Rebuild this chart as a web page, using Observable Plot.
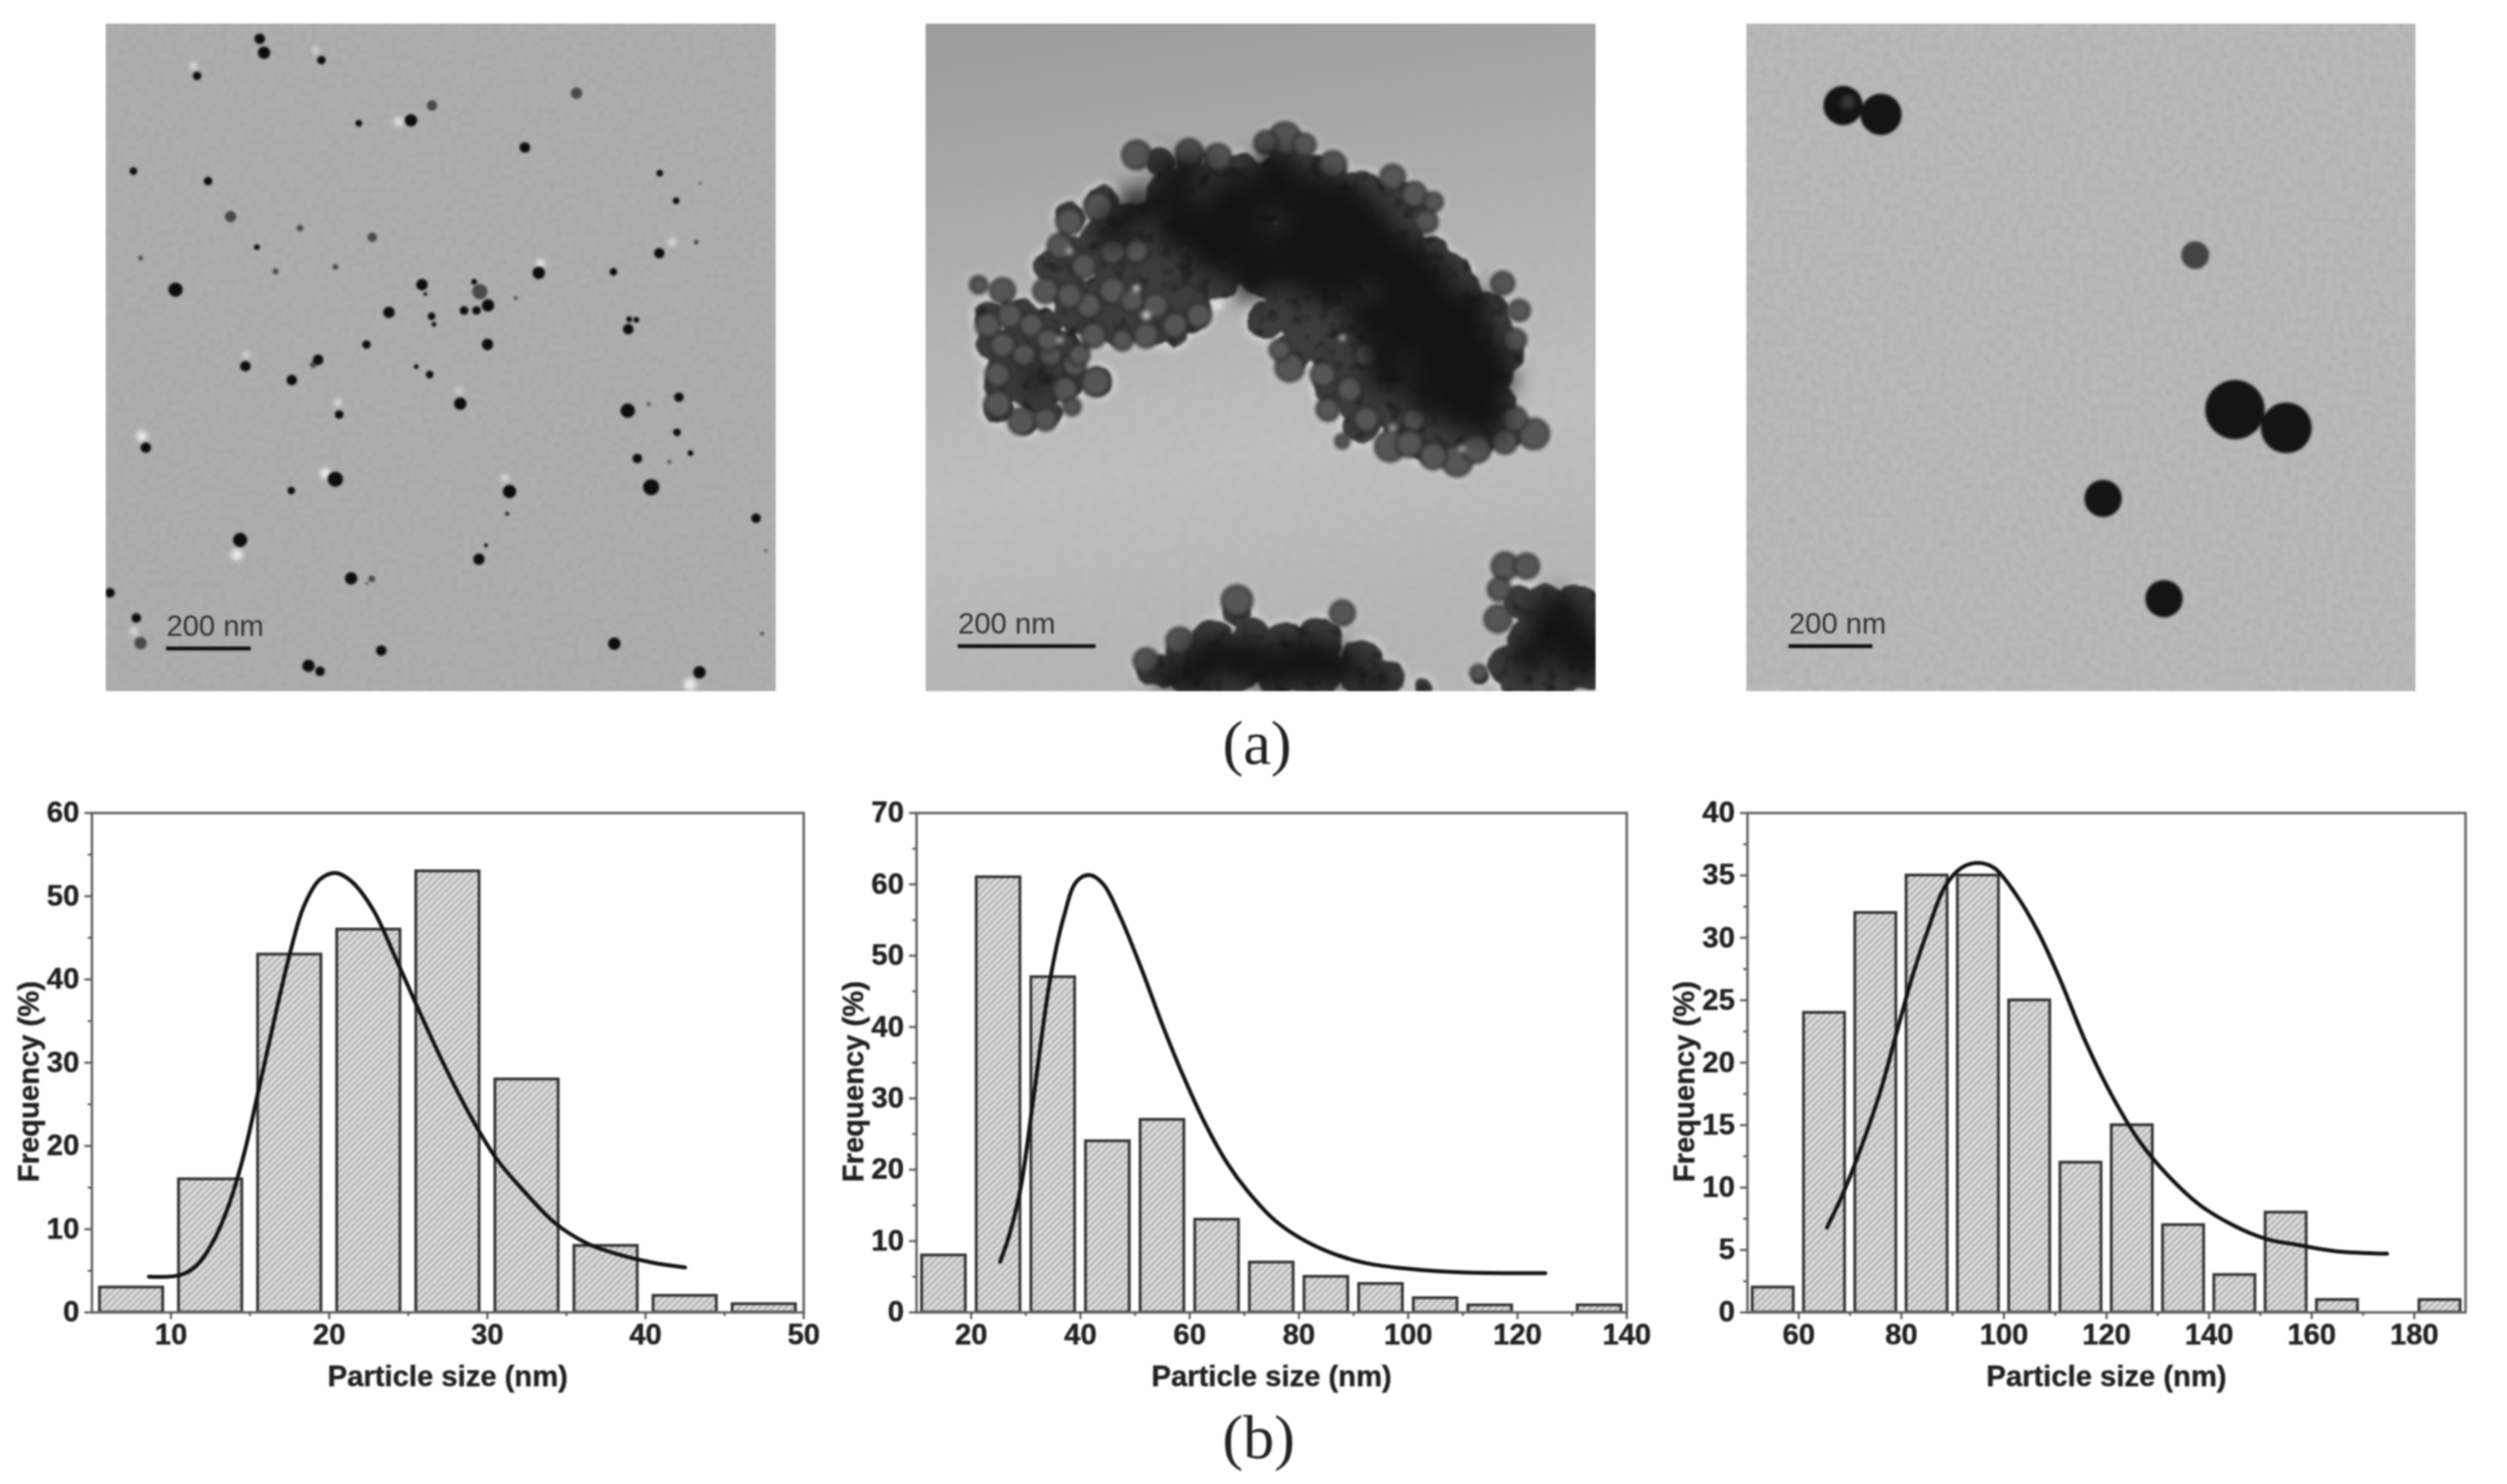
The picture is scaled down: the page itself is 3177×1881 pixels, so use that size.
<!DOCTYPE html>
<html>
<head>
<meta charset="utf-8">
<script src="https://cdn.jsdelivr.net/npm/d3@7"></script>
<script src="https://cdn.jsdelivr.net/npm/@observablehq/plot@0.6"></script>
<style>
html,body{margin:0;padding:0;background:#fff;overflow:hidden}
#root{position:relative;width:3177px;height:1881px;background:#fff;filter:blur(0.8px)}
#root svg{position:absolute;overflow:visible;background:none;max-width:none}
.cap{position:absolute;font-family:"Liberation Serif",serif;font-size:79px;color:#222;line-height:1;transform:translateX(-50%)}
</style>
</head>
<body>
<div id="root"></div>
<script>
// ---- histogram data ----
const lo1 = [5.5,10.5,15.5,20.5,25.5,30.5,35.5,40.5,45.5];
const hi1 = [9.5,14.5,19.5,24.5,29.5,34.5,39.5,44.5,49.5];
const freq1 = [3,16,43,46,53,28,8,2,1];
const fitX1 = [8.6,10.6,11.6,12.6,13.6,14.6,15.7,17.5,18.4,19.4,20.4,21.4,22.8,24.1,25.5,27.2,28.9,30.6,32.3,34.3,36.3,38.4,40.4,42.5];
const fitY1 = [4.3,4.5,5.6,8.3,12.6,18.9,28.1,43,48.8,52,52.8,51.8,48.3,43,37,30,23.7,18.4,14.6,10.7,8.3,6.9,6,5.4];
const xTicks1 = [10,20,30,40,50];
const xMinor1 = [15,25,35,45];
const yTicks1 = [0,10,20,30,40,50,60];
const yMinor1 = [5,15,25,35,45,55];

const lo2 = [11,21,31,41,51,61,71,81,91,101,111,131];
const hi2 = [19,29,39,49,59,69,79,89,99,109,119,139];
const freq2 = [8,61,47,24,27,13,7,5,4,2,1,1];
const fitX2 = [25.3,27,29,31.5,34.4,36.9,39.3,41.8,44.2,47.2,51.1,55,58.9,62.8,66.8,70.7,75.6,80.5,86.4,92.3,100.1,109.9,125.1];
const fitY2 = [7.1,10.9,17.2,30.6,46.4,55.3,60.4,61.3,60,55.6,48.3,40.3,33,26.5,21,16.9,12.9,10.3,8.2,6.9,6.1,5.6,5.5];
const xTicks2 = [20,40,60,80,100,120,140];
const xMinor2 = [30,50,70,90,110,130];
const yTicks2 = [0,10,20,30,40,50,60,70];
const yMinor2 = [5,15,25,35,45,55,65];

const lo3 = [51,61,71,81,91,101,111,121,131,141,151,161,181];
const hi3 = [59,69,79,89,99,109,119,129,139,149,159,169,189];
const freq3 = [2,24,32,35,35,25,12,15,7,3,8,1,1];
const fitX3 = [65.5,68.5,71.6,75.9,79,82.2,85.4,88.5,91.7,94.9,98.1,102.3,106.5,110.8,116,121.4,126.6,131.9,138.2,144.6,151,157.3,164.7,174.7];
const fitY3 = [6.8,9.4,12.6,17.7,22.3,27,30.9,34.1,35.6,36,35.6,33.5,30.6,26.8,21.6,17.1,13.6,11,8.6,7,5.9,5.4,4.9,4.7];
const xTicks3 = [60,80,100,120,140,160,180];
const xMinor3 = [70,90,110,130,150,170];
const yTicks3 = [0,5,10,15,20,25,30,35,40];
const yMinor3 = [2.5,7.5,12.5,17.5,22.5,27.5,32.5,37.5];

const xLabel = "Particle size (nm)";
const yLabel = "Frequency (%)";
const scaleLabel = "200 nm";

// ---- micrograph particles: [x, y, radius] in field-of-view units ----
const p1Dark = [[378,80,11],[387,108,13],[507,123,9],[247,155,9],[694,245,13],[585,251,7],[932,300,11],[114,348,8],[270,368,9],[1214,352,7],[1248,408,7],[372,502,6],[1213,514,11],[1117,552,8],[961,554,13],[202,588,15],[717,578,12],[648,634,12],[805,630,9],[831,630,9],[855,620,13],[737,642,8],[742,658,5],[1148,668,11],[1150,648,6],[1165,649,6],[854,699,12],[601,699,9],[500,730,11],[348,743,11],[445,771,11],[733,760,8],[705,744,5],[797,819,13],[1147,833,15],[1254,806,10],[544,841,9],[1250,877,8],[140,908,11],[1167,930,10],[1278,919,6],[536,972,16],[444,995,8],[900,997,14],[1196,988,17],[1415,1051,10],[337,1095,15],[836,1134,12],[569,1173,13],[65,1202,10],[120,1253,10],[632,1319,11],[1119,1305,13],[480,1350,13],[504,1361,10],[1297,1363,13],[895,1042,4],[851,1106,4],[724,597,4],[826,572,6]];
const p1Mid = [[738,215,11],[1040,190,12],[317,440,12],[462,463,7],[613,482,10],[536,542,6],[129,524,5],[411,551,6],[838,592,16],[490,740,7],[612,1174,7],[129,1304,13],[913,605,4],[1298,373,3],[1290,492,5],[1191,820,4],[1234,937,4],[1436,1117,3],[1428,1285,4],[602,1183,3]];
const p1Halo = [[132,885,11],[1277,1388,13],[515,960,11],[668,248,9],[240,135,7],[495,103,6],[965,535,9],[1240,492,7],[350,720,6],[795,793,6],[542,817,7],[330,1125,12],[115,1280,7],[890,970,7]];

const p2Outer = [[170,640,30],[240,640,35],[290,660,35],[180,700,35],[250,710,45],[330,700,30],[200,780,40],[270,790,50],[340,770,35],[400,775,30],[190,830,30],[250,860,22],[300,840,25],[360,630,50],[440,650,50],[520,650,50],[590,630,45],[560,680,25],[340,440,30],[410,410,35],[470,470,60],[350,520,45],[520,560,70],[440,560,50],[530,330,30],[590,330,28],[650,345,30],[560,400,60],[640,450,80],[720,400,70],[790,300,35],[800,380,80],[890,360,35],[950,400,55],[1015,385,25],[1060,420,30],[1000,470,80],[870,480,100],[760,530,80],[1090,520,45],[750,650,40],[810,710,40],[880,650,90],[960,600,90],[1060,600,90],[1150,590,50],[1210,640,50],[1250,720,40],[900,780,50],[980,730,80],[1080,760,100],[1180,740,90],[950,860,40],[1090,890,50],[1180,880,55],[1260,870,35],[1230,820,45],[430,500,70],[520,470,70],[600,560,60],[400,620,60],[500,620,55],[300,540,35],[340,590,40],[250,680,50],[220,740,50],[300,740,40],[650,560,50],[850,600,100],[920,700,80],[1000,800,70],[1100,680,90],[1200,680,70],[960,820,55],[1050,860,55],[1150,850,60],[1000,660,80],[1130,560,50],[700,350,40],[850,350,35],[920,450,70],[1030,420,50],[600,380,50],[510,1360,30],[570,1320,28],[640,1300,45],[690,1240,30],[720,1290,38],[590,1370,45],[680,1350,60],[780,1350,60],[860,1300,50],[850,1360,60],[950,1340,45],[1000,1375,40],[1080,1392,18],[1330,1240,55],[1400,1240,55],[1350,1300,80],[1420,1330,70],[1260,1350,45],[1195,1372,15],[1290,1380,50],[640,1350,60],[720,1330,60],[790,1300,40],[950,1370,45],[540,1360,35],[1350,1350,70],[1300,1300,45],[1280,1220,35]];
const p2Grains = [[150,578,18],[200,590,26],[170,660,26],[215,640,26],[260,660,25],[200,700,26],[245,720,24],[190,760,26],[300,720,24],[350,740,24],[395,775,30],[330,790,26],[190,820,28],[240,855,28],[290,850,24],[345,825,18],[295,690,24],[360,720,22],[340,450,28],[400,420,30],[320,500,26],[370,540,26],[430,510,26],[480,510,24],[430,590,28],[380,620,26],[340,600,26],[470,610,24],[520,620,26],[500,680,26],[560,660,26],[610,640,26],[450,690,22],[390,680,26],[290,590,26],[800,745,30],[780,710,22],[880,830,24],[925,790,26],[960,850,26],[1010,905,32],[960,720,24],[1000,680,24],[1050,900,28],[1100,925,28],[1150,935,32],[1190,910,30],[1250,895,26],[1310,880,32],[1270,850,26],[870,760,26],[910,895,15],[1060,850,24],[1015,360,26],[1060,395,26],[1100,410,20],[1085,450,24],[480,315,30],[590,310,28],[650,320,28],[790,282,34],[750,290,24],[830,295,24],[890,335,28],[1245,575,24],[1280,630,22],[1270,690,24],[690,1218,32],[910,1243,26],[570,1300,28],[500,1340,26],[1250,1148,28],[1295,1148,26],[1238,1195,24],[1235,1255,28],[1195,1365,18]];
const p2Core = [[560,400,45],[620,470,60],[540,340,25],[700,450,50],[780,380,60],[870,400,50],[930,420,45],[800,520,70],[880,540,80],[960,530,50],[1020,560,50],[720,570,40],[1080,650,60],[1150,700,70],[1200,790,60],[1100,790,60],[1000,760,40],[1220,860,30],[640,520,40],[270,770,25],[660,1330,40],[770,1360,40],[860,1340,45],[1360,1260,60],[1410,1320,60],[600,1380,30],[600,340,30],[680,400,50],[760,340,40],[860,470,70],[960,470,60],[1040,520,45],[700,520,50],[560,470,40],[1050,620,55],[1130,640,50],[1210,720,45],[1170,830,50],[1100,720,50],[1000,640,40],[540,1370,30],[620,1340,45],[720,1340,50],[820,1340,50],[900,1350,45],[980,1380,30],[1300,1330,40],[480,420,40],[430,470,35],[1100,560,40],[1180,620,40],[950,640,40],[1000,700,50],[1240,760,30]];
const p2Spots = [[480,585,8],[500,640,9],[650,620,10],[910,685,6],[1015,868,6],[340,510,6],[320,690,6],[1160,910,6]];

const p3Dark = [[228,215,41],[307,233,43],[1045,831,62],[1152,868,53],[770,1011,39],[897,1214,39]];
const p3Mid = [[962,518,29]];
const p3Ring = [[238,208,15]];

// ---- drawing helpers ----
const root = document.getElementById("root");
const FONT = '"Liberation Sans",Arial,sans-serif';
const tuple = arr => arr.map(d => ({x:d[0], y:d[1], r:d[2]}));

function place(svg, left, top) {
  svg.style.left = left + "px";
  svg.style.top = top + "px";
  root.appendChild(svg);
}

function histogram(o) {
  const m = {l:110, r:40, t:30, b:140};
  const W = o.R - o.L + m.l + m.r, H = o.B - o.T + m.t + m.b;
  const bars = o.lo.map((d,i) => ({x1:d, x2:o.hi[i], y:o.freq[i]}));
  const fit = o.fx.map((d,i) => ({x:d, y:o.fy[i]}));
  const hatch = () => {
    const g = d3.create("svg:defs");
    const p = g.append("pattern").attr("id","hatch"+o.id).attr("patternUnits","userSpaceOnUse")
      .attr("width",6).attr("height",6).attr("patternTransform","rotate(-45)");
    p.append("rect").attr("width",6).attr("height",6).attr("fill","#dcdcdc");
    p.append("rect").attr("width",6).attr("height",2.2).attr("fill","#adadad");
    return g.node();
  };
  const svg = Plot.plot({
    width:W, height:H, marginLeft:m.l, marginRight:m.r, marginTop:m.t, marginBottom:m.b,
    style:{fontFamily:FONT, background:"none", color:"#222"},
    x:{domain:o.xd}, y:{domain:o.yd},
    marks:[
      hatch,
      Plot.rect(bars,{x1:"x1",x2:"x2",y1:0,y2:"y",fill:`url(#hatch${o.id})`,stroke:"#333",strokeWidth:3.6}),
      Plot.frame({stroke:"#666",strokeWidth:3.2}),
      Plot.axisX({ticks:o.xt,tickSize:9,tickPadding:5,strokeWidth:2.6,stroke:"#555",fontSize:30,fontWeight:"bold",label:o.xl,labelAnchor:"center",labelOffset:93,labelArrow:"none"}),
      Plot.axisX({ticks:o.xm,tickSize:5,strokeWidth:2.4,stroke:"#555",tickFormat:()=>"",label:null}),
      Plot.axisY({ticks:o.yt,tickSize:9,tickPadding:7,strokeWidth:2.6,stroke:"#555",fontSize:30,fontWeight:"bold",label:o.yl,labelAnchor:"center",labelOffset:94,labelArrow:"none"}),
      Plot.axisY({ticks:o.ym,tickSize:5,strokeWidth:2.4,stroke:"#555",tickFormat:()=>"",label:null}),
      Plot.line(fit,{x:"x",y:"y",stroke:"#141414",strokeWidth:5,curve:"catmull-rom"})
    ]
  });
  d3.select(svg).selectAll("text").style("stroke","#222").style("stroke-width","0.5px").style("fill","#222");
  d3.select(svg).selectAll('g[aria-label$="label"] text').style("font-size","37px").style("font-weight","bold");
  d3.select(svg).selectAll('g[aria-label="y-axis label"]').attr("transform",function(){return "translate(0,24) "+(this.getAttribute("transform")||"");});
  place(svg, o.L - m.l, o.T - m.t);
}

function panel(o) {
  const W = o.R - o.L, H = o.B - o.T;
  const texture = () => {
    const g = d3.create("svg:g");
    const defs = g.append("defs");
    const f = defs.append("filter").attr("id","noise"+o.id).attr("x",0).attr("y",0).attr("width","100%").attr("height","100%");
    f.append("feTurbulence").attr("type","fractalNoise").attr("baseFrequency",o.noiseFreq).attr("numOctaves",3).attr("seed",o.id);
    f.append("feColorMatrix").attr("type","matrix").attr("values","0 0 0 0 0.35  0 0 0 0 0.35  0 0 0 0 0.35  1.6 0 0 0 -0.62");
    if (o.grad) {
      const lg = defs.append("linearGradient").attr("id","bg"+o.id).attr("x1",0).attr("x2",0.15).attr("y1",0).attr("y2",1);
      o.grad.forEach(s => lg.append("stop").attr("offset",s[0]).attr("stop-color",s[1]));
    }
    const l = defs.append("filter").attr("id","lump"+o.id).attr("x","-5%").attr("y","-5%").attr("width","110%").attr("height","110%").attr("color-interpolation-filters","sRGB");
    l.append("feTurbulence").attr("type","fractalNoise").attr("baseFrequency",0.05).attr("numOctaves",2).attr("seed",5).attr("result","n");
    l.append("feDisplacementMap").attr("in","SourceGraphic").attr("in2","n").attr("scale",8).attr("xChannelSelector","R").attr("yChannelSelector","G").attr("result","d");
    l.append("feGaussianBlur").attr("in","d").attr("stdDeviation",1.6).attr("result","b");
    l.append("feColorMatrix").attr("in","n").attr("type","matrix").attr("values","1.4 0 0 0 0.3  1.4 0 0 0 0.3  1.4 0 0 0 0.3  0 0 0 0 1").attr("result","g");
    l.append("feComposite").attr("in","b").attr("in2","g").attr("operator","arithmetic").attr("k1",1).attr("k2",0).attr("k3",0).attr("k4",0);
    g.append("rect").attr("width",W).attr("height",H).attr("fill",o.grad?`url(#bg${o.id})`:o.bg);
    g.append("rect").attr("width",W).attr("height",H).attr("filter",`url(#noise${o.id})`).attr("opacity",o.noiseOp);
    return g.node();
  };
  const svg = Plot.plot({
    width:W, height:H, margin:0,
    style:{background:"none", fontFamily:FONT},
    x:{domain:o.fx, axis:null}, y:{domain:[50,1402], range:[0,H], axis:null},
    r:{type:"linear", domain:[0,100], range:[0,W/(o.fx[1]-o.fx[0])*100], clamp:false},
    marks:[texture, ...o.layers,
      Plot.ruleY([o.barY],{x1:o.bar[0],x2:o.bar[1],y:d=>d,stroke:"#111",strokeWidth:5}),
      Plot.text([scaleLabel],{x:o.bar[0],y:o.barY-45,text:d=>d,textAnchor:"start",fontSize:37,fill:"#333",lineAnchor:"middle"})
    ]
  });
  place(svg, o.L, o.T);
}

const dots = (arr, fill, extra={}) => Plot.dot(tuple(arr),{x:"x",y:"y",r:"r",fill,stroke:"none",clip:true,...extra});

// ---- micrographs ----
panel({id:1,L:134,R:983,T:30,B:876,fx:[57,1457],bg:"#aeaeae",noiseFreq:0.13,noiseOp:.55,bar:[183,360],barY:1315,layers:[
  dots(p1Halo,"#eeeeee",{imageFilter:"blur(3px)"}),
  dots(p1Mid,"#4a4a4a",{imageFilter:"blur(1px)"}),
  dots(p1Dark,"#0d0d0d",{imageFilter:"blur(1px)"})
]});
panel({id:2,L:1173,R:2022,T:30,B:876,fx:[40,1440],grad:[[0,"#9b9b9b"],[0.35,"#aeaeae"],[0.7,"#bfbfbf"],[1,"#b5b5b5"]],noiseFreq:0.09,noiseOp:.18,bar:[107,395],barY:1310,layers:[
  dots(p2Outer,"none",{stroke:"#f4f4f4",strokeWidth:9,strokeOpacity:.5,imageFilter:"blur(5px)"}),
  dots(p2Grains,"none",{stroke:"#f4f4f4",strokeWidth:7,strokeOpacity:.5,imageFilter:"blur(4px)"}),
  dots(p2Outer,"#3c3c3c",{imageFilter:"url(#lump2)"}),
  dots(p2Grains,"#565656",{stroke:"#2a2a2a",strokeWidth:3,imageFilter:"blur(2.5px)"}),
  dots(p2Core,"#121212",{fillOpacity:.92,imageFilter:"blur(14px)"}),
  dots(p2Spots,"#e4e4e4",{imageFilter:"blur(3px)"})
]});
panel({id:3,L:2213,R:3061,T:30,B:876,fx:[27,1422],bg:"#b9b9b9",noiseFreq:0.11,noiseOp:.42,bar:[115,290],barY:1310,layers:[
  dots(p3Mid,"#444",{imageFilter:"blur(1.5px)"}),
  dots(p3Dark,"#141414",{imageFilter:"blur(1.5px)"}),
  dots(p3Ring,"#3a3a3a",{imageFilter:"blur(3px)"})
]});

// ---- histograms ----
histogram({id:1,L:116,R:1018,T:1030,B:1663,xd:[5,50],yd:[0,60],lo:lo1,hi:hi1,freq:freq1,fx:fitX1,fy:fitY1,xt:xTicks1,xm:xMinor1,yt:yTicks1,ym:yMinor1,xl:xLabel,yl:yLabel});
histogram({id:2,L:1161,R:2061,T:1030,B:1663,xd:[10,140],yd:[0,70],lo:lo2,hi:hi2,freq:freq2,fx:fitX2,fy:fitY2,xt:xTicks2,xm:xMinor2,yt:yTicks2,ym:yMinor2,xl:xLabel,yl:yLabel});
histogram({id:3,L:2214,R:3124,T:1030,B:1663,xd:[50,190],yd:[0,40],lo:lo3,hi:hi3,freq:freq3,fx:fitX3,fy:fitY3,xt:xTicks3,xm:xMinor3,yt:yTicks3,ym:yMinor3,xl:xLabel,yl:yLabel});

// ---- captions ----
for (const [t,x,y] of [["(a)",1593,902],["(b)",1595,1782]]) {
  const d = document.createElement("div");
  d.className = "cap"; d.textContent = t; d.style.left = x+"px"; d.style.top = y+"px";
  root.appendChild(d);
}
</script>
</body>
</html>
